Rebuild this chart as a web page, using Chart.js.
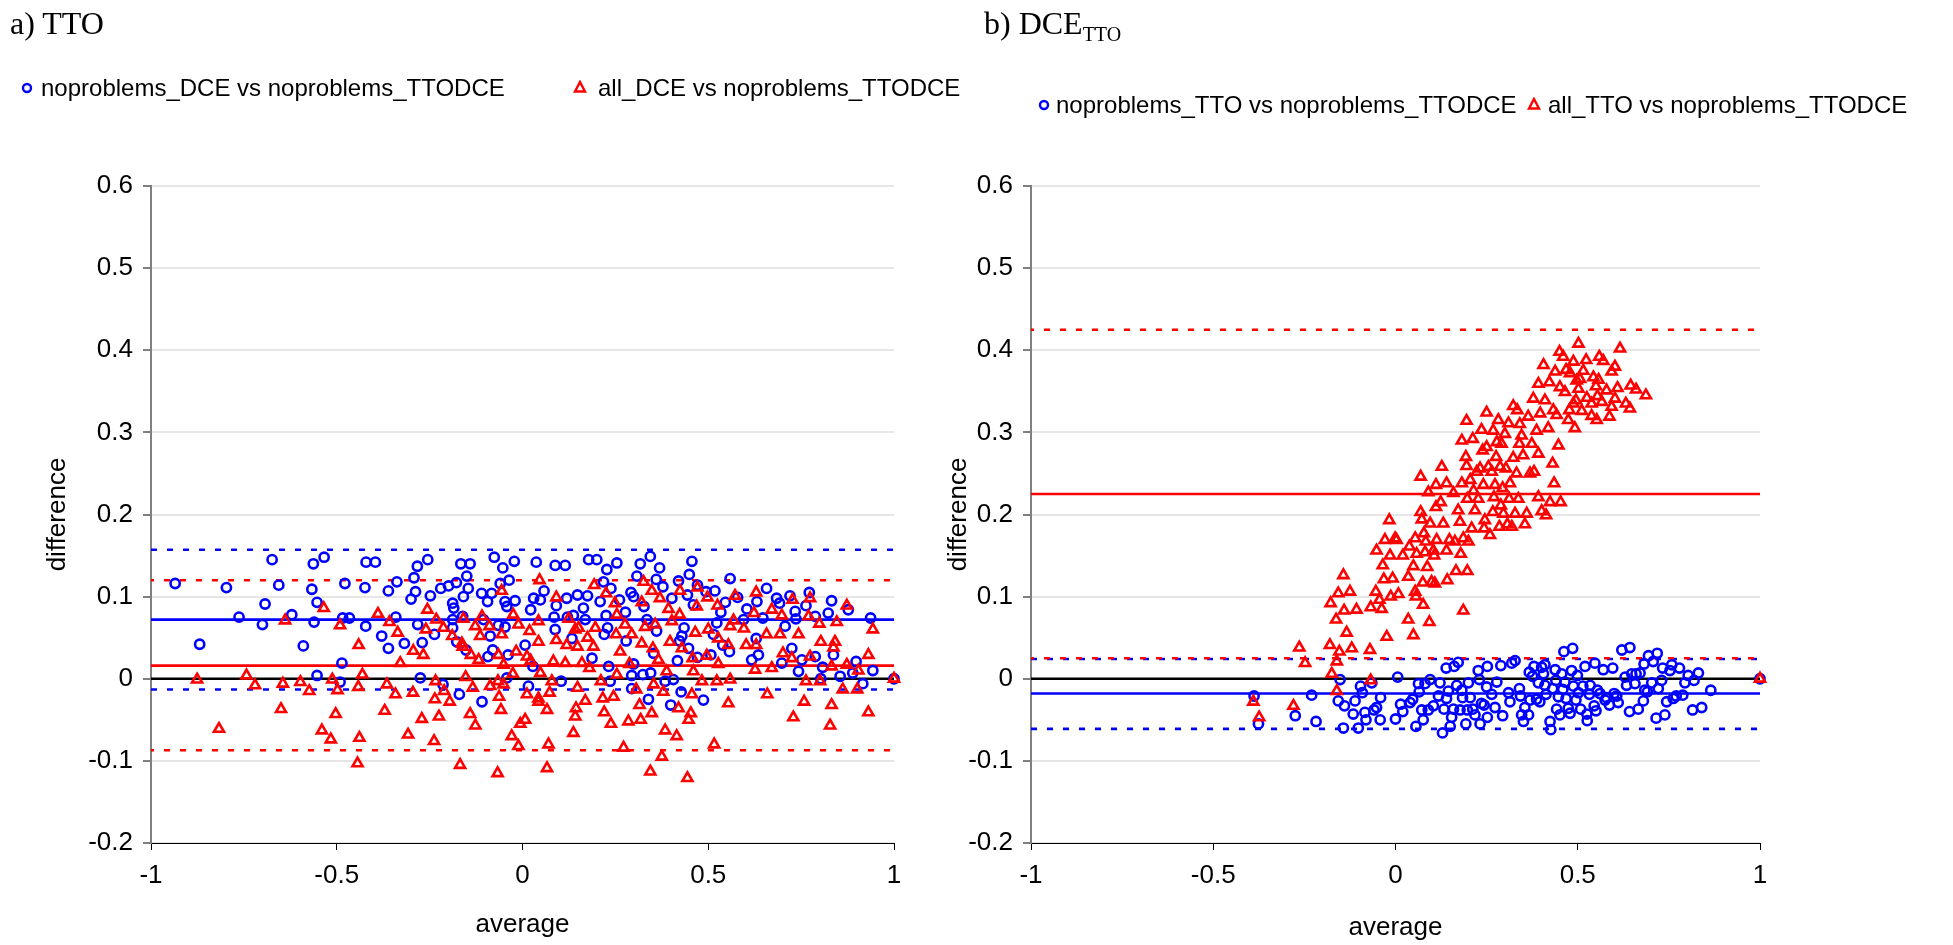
<!DOCTYPE html>
<html>
<head>
<meta charset="utf-8">
<script src="https://cdn.jsdelivr.net/npm/chart.js@4.4.1/dist/chart.umd.min.js"></script>
<style>
  body { margin: 0; background: #fff; width: 1953px; height: 945px; overflow: hidden; position: relative;
         font-family: 'Liberation Sans', Arial, sans-serif; }
  canvas { position: absolute; top: 0; }
  .title { position: absolute; font-family: 'Liberation Serif', 'Times New Roman', serif; font-size: 32px;
           line-height: 32px; color: #000; white-space: nowrap; }
  .title sub { font-size: 20px; vertical-align: -7px; line-height: 0; }
  .leg { position: absolute; font-size: 24px; line-height: 30px; height: 30px; white-space: nowrap; color: #000; }
  .mk { position: absolute; }
</style>
</head>
<body>
<canvas id="ttoChart" width="930" height="945" style="left:0"></canvas>
<canvas id="dceChart" width="1023" height="945" style="left:930px"></canvas>

<div class="title" style="left:10px;top:7px">a) TTO</div>
<div class="title" style="left:984px;top:7px">b) DCE<sub>TTO</sub></div>

<svg class="mk" style="left:21px;top:82px" width="12" height="12"><circle cx="6" cy="6" r="4" fill="none" stroke="#0000ff" stroke-width="2.4"/></svg>
<span class="leg" style="left:41px;top:73px">noproblems_DCE vs noproblems_TTODCE</span>
<svg class="mk" style="left:573px;top:80px" width="14" height="14"><polygon points="7,2 12,11.5 2,11.5" fill="none" stroke="#ff0000" stroke-width="2.4"/></svg>
<span class="leg" style="left:598px;top:73px">all_DCE vs noproblems_TTODCE</span>

<svg class="mk" style="left:1038px;top:99px" width="12" height="12"><circle cx="6" cy="6" r="4" fill="none" stroke="#0000ff" stroke-width="2.4"/></svg>
<span class="leg" style="left:1056px;top:90px">noproblems_TTO vs noproblems_TTODCE</span>
<svg class="mk" style="left:1527px;top:97px" width="14" height="14"><polygon points="7,2 12,11.5 2,11.5" fill="none" stroke="#ff0000" stroke-width="2.4"/></svg>
<span class="leg" style="left:1548px;top:90px">all_TTO vs noproblems_TTODCE</span>

<script>
// axis ticks
const xTicks = [-1, -0.5, 0, 0.5, 1];
const yTicks = [-0.2, -0.1, 0, 0.1, 0.2, 0.3, 0.4, 0.5, 0.6];

// a) TTO: [average, difference]
const ttoNoproblemsDce = [
  [-0.935,0.116],[-0.869,0.042],[-0.797,0.111],[-0.763,0.075],[-0.700,0.066],[-0.693,0.091],[-0.674,0.145],[-0.656,0.114],
  [-0.621,0.078],[-0.590,0.040],[-0.567,0.109],[-0.563,0.140],[-0.561,0.069],[-0.553,0.093],[-0.553,0.004],[-0.534,0.148],
  [-0.491,-0.004],[-0.486,0.019],[-0.484,0.074],[-0.478,0.116],[-0.466,0.074],[-0.424,0.111],[-0.422,0.064],[-0.421,0.142],
  [-0.396,0.142],[-0.379,0.052],[-0.361,0.107],[-0.361,0.037],[-0.341,0.075],[-0.338,0.118],[-0.318,0.043],[-0.300,0.097],
  [-0.292,0.123],[-0.288,0.106],[-0.283,0.137],[-0.282,0.066],[-0.275,0.001],[-0.270,0.044],[-0.255,0.145],[-0.248,0.101],
  [-0.237,0.054],[-0.220,0.110],[-0.214,-0.007],[-0.199,0.113],[-0.188,0.092],[-0.185,0.086],[-0.188,0.072],[-0.188,0.062],
  [-0.178,0.117],[-0.177,0.045],[-0.170,-0.019],[-0.166,0.140],[-0.161,0.076],[-0.159,0.100],[-0.152,0.035],[-0.150,0.125],
  [-0.146,0.110],[-0.141,0.140],[-0.110,0.104],[-0.109,-0.028],[-0.105,0.072],[-0.094,0.094],[-0.093,0.027],[-0.087,0.052],
  [-0.083,0.104],[-0.080,0.035],[-0.076,0.148],[-0.065,0.065],[-0.060,0.116],[-0.053,0.135],[-0.047,0.094],[-0.047,0.063],
  [-0.042,0.001],[-0.042,0.088],[-0.039,0.029],[-0.036,0.120],[-0.022,0.143],[-0.020,0.095],
  [0.007,0.041],[0.016,-0.009],[0.028,0.015],[0.104,-0.003],
  [0.037,0.142],[0.022,0.084],[0.030,0.098],[0.048,0.096],[0.058,0.107],[0.088,0.138],[0.115,0.138],[0.085,0.075],
  [0.091,0.089],[0.088,0.060],[0.119,0.098],[0.121,0.075],[0.133,0.049],[0.137,0.077],[0.148,0.102],[0.164,0.086],
  [0.169,0.072],[0.175,0.101],[0.178,0.145],[0.200,0.145],[0.187,0.025],[0.209,0.094],[0.218,0.118],[0.227,0.133],
  [0.225,0.077],[0.229,0.062],[0.220,0.054],[0.238,0.110],[0.254,0.141],[0.261,0.096],[0.277,0.081],[0.279,0.046],
  [0.232,0.015],[0.236,-0.003],[0.292,0.105],[0.299,0.100],[0.299,0.018],[0.294,0.004],[0.294,-0.012],[0.308,0.125],
  [0.317,0.140],[0.324,0.005],[0.327,0.088],[0.335,0.072],[0.344,0.149],[0.345,0.007],[0.339,-0.025],[0.353,0.031],
  [0.360,0.121],[0.361,0.058],[0.369,0.135],[0.378,0.112],[0.384,-0.003],[0.399,-0.032],[0.402,0.098],[0.406,-0.001],
  [0.417,0.022],[0.420,0.119],[0.423,0.046],[0.427,-0.016],[0.429,0.052],[0.435,0.062],[0.444,0.102],[0.447,0.037],
  [0.449,0.127],[0.456,0.143],[0.471,0.114],[0.471,0.026],[0.460,0.090],[0.487,-0.026],[0.494,0.106],[0.518,0.107],
  [0.507,0.029],[0.514,0.054],[0.523,0.068],[0.534,0.081],[0.539,0.041],[0.546,0.093],[0.557,0.033],[0.559,0.122],
  [0.579,0.099],[0.595,0.072],[0.604,0.085],[0.617,0.023],[0.629,0.049],[0.631,0.094],[0.635,0.029],[0.647,0.074],
  [0.657,0.110],[0.684,0.098],[0.692,0.092],[0.698,0.019],[0.707,0.064],[0.720,0.101],[0.725,0.037],[0.734,0.082],
  [0.736,0.073],[0.743,0.009],[0.752,0.023],[0.763,0.089],[0.772,0.105],[0.788,0.076],[0.788,0.027],[0.803,0.000],
  [0.808,0.014],[0.823,0.080],[0.832,0.095],[0.837,0.029],[0.855,0.003],[0.877,0.084],[0.889,0.007],[0.898,0.021],
  [0.916,-0.006],[0.937,0.074],[0.943,0.010],[1,0]
];
const ttoAllDce = [
  [-0.876,-0.001],[-0.817,-0.061],[-0.743,0.004],[-0.720,-0.008],[-0.650,-0.037],[-0.645,-0.006],[-0.639,0.071],[-0.598,-0.004],
  [-0.574,-0.015],[-0.540,-0.063],[-0.535,0.086],[-0.516,-0.074],[-0.512,-0.001],[-0.503,-0.043],[-0.498,-0.014],[-0.491,0.065],
  [-0.444,-0.103],[-0.442,-0.010],[-0.441,0.041],[-0.439,-0.072],[-0.431,0.005],[-0.389,0.079],[-0.371,-0.039],[-0.365,-0.007],
  [-0.358,0.069],[-0.342,-0.019],[-0.336,0.056],[-0.329,0.019],[-0.308,-0.068],[-0.295,-0.017],[-0.294,0.034],[-0.271,-0.049],
  [-0.267,0.029],[-0.260,0.060],[-0.256,0.084],[-0.238,-0.076],[-0.236,-0.025],[-0.234,-0.003],[-0.232,0.072],[-0.225,-0.046],
  [-0.213,0.062],[-0.211,-0.015],[-0.196,-0.028],[-0.189,0.052],[-0.168,-0.105],[-0.163,0.043],[-0.161,0.039],[-0.159,0.073],
  [-0.153,0.002],[-0.141,-0.043],[-0.139,0.029],[-0.134,-0.011],[-0.127,-0.057],[-0.127,0.064],[-0.118,0.023],[-0.114,0.052],
  [-0.109,0.076],[-0.089,0.064],[-0.087,-0.009],[-0.067,-0.115],[-0.066,-0.003],[-0.065,0.029],[-0.063,-0.022],[-0.058,-0.038],
  [-0.056,0.054],[-0.056,0.107],[-0.051,-0.007],[-0.051,0.017],[-0.029,-0.070],[-0.026,0.006],[-0.025,0.078],[-0.017,0.033],
  [-0.011,-0.082],[-0.006,-0.055],[-0.011,0.066],
  [0.046,0.120],[0.043,0.070],[0.019,0.058],[0.012,0.027],[0.022,0.022],[0.048,0.007],[0.043,0.045],[0.012,-0.019],
  [0.007,-0.050],[0.043,-0.024],[0.043,-0.028],[0.066,-0.038],[0.073,-0.017],[0.070,-0.080],[0.066,-0.109],[0.079,-0.003],
  [0.083,0.021],[0.091,0.099],[0.091,0.047],[0.115,0.019],[0.119,0.041],[0.124,0.073],[0.142,0.060],[0.148,0.039],
  [0.151,0.062],[0.148,-0.011],[0.144,-0.036],[0.142,-0.046],[0.137,-0.066],[0.160,0.019],[0.169,-0.027],[0.175,0.050],
  [0.180,0.013],[0.191,0.039],[0.193,0.114],[0.196,0.062],[0.211,-0.003],[0.216,-0.024],[0.220,-0.041],[0.225,0.104],
  [0.238,-0.055],[0.245,-0.022],[0.249,0.092],[0.252,0.054],[0.254,0.078],[0.254,0.005],[0.263,0.033],[0.272,-0.084],
  [0.276,0.066],[0.285,-0.052],[0.288,0.018],[0.294,0.054],[0.306,-0.013],[0.315,-0.032],[0.318,-0.050],[0.321,0.093],
  [0.321,0.043],[0.326,0.118],[0.330,0.063],[0.344,-0.113],[0.348,-0.042],[0.348,0.107],[0.351,0.037],[0.353,-0.007],
  [0.357,0.066],[0.366,0.023],[0.370,0.098],[0.375,-0.095],[0.379,-0.016],[0.384,-0.063],[0.388,0.009],[0.393,0.085],
  [0.397,0.045],[0.402,0.070],[0.415,-0.070],[0.420,-0.036],[0.423,0.078],[0.424,0.107],[0.429,0.037],[0.444,-0.121],
  [0.447,-0.050],[0.453,-0.042],[0.456,-0.019],[0.458,0.025],[0.460,0.009],[0.465,0.056],[0.469,0.088],[0.471,0.111],
  [0.483,-0.003],[0.496,0.028],[0.498,0.099],[0.500,0.060],[0.516,-0.080],[0.523,-0.003],[0.525,0.089],[0.527,0.049],
  [0.527,0.018],[0.554,0.041],[0.554,-0.030],[0.559,-0.001],[0.559,0.064],[0.568,0.071],[0.572,0.101],[0.596,0.061],
  [0.602,0.041],[0.623,0.080],[0.626,0.011],[0.629,0.105],[0.629,0.041],[0.657,0.054],[0.659,-0.019],[0.671,0.084],
  [0.671,0.013],[0.693,0.054],[0.698,0.077],[0.701,0.031],[0.725,0.025],[0.727,0.096],[0.729,-0.047],[0.743,0.054],
  [0.758,-0.028],[0.763,-0.003],[0.770,0.076],[0.774,0.098],[0.774,0.027],[0.799,0.067],[0.801,-0.003],[0.803,0.045],
  [0.828,-0.057],[0.832,-0.032],[0.832,0.015],[0.837,0.038],[0.841,0.045],[0.846,0.069],[0.862,-0.013],[0.873,0.089],
  [0.873,0.017],[0.901,-0.013],[0.904,0.010],[0.931,-0.041],[0.931,0.029],[0.943,0.060],[1,0]
];
// mean and limits of agreement: [blue, red]
const ttoMeans = [0.072, 0.016];
const ttoLimits = [[-0.013, 0.157], [-0.087, 0.120]];

// b) DCE_TTO
const dceNoproblemsTto = [
  [-0.388,-0.021],[-0.376,-0.055],[-0.275,-0.045],[-0.230,-0.020],[-0.218,-0.052],[-0.152,-0.001],[-0.157,-0.027],[-0.143,-0.060],
  [-0.140,-0.033],[-0.116,-0.043],[-0.111,-0.027],[-0.102,-0.060],[-0.096,-0.009],[-0.091,-0.017],[-0.084,-0.041],[-0.081,-0.050],
  [-0.065,-0.005],[-0.059,-0.038],[-0.052,-0.035],[-0.041,-0.023],[-0.042,-0.050],[0.000,-0.049],[0.006,0.002],[0.014,-0.031],
  [0.020,-0.040],[0.047,-0.025],[0.040,-0.029],[0.056,-0.058],[0.063,-0.006],[0.065,-0.016],[0.072,-0.038],[0.076,-0.050],
  [0.081,-0.006],[0.090,-0.038],[0.095,-0.001],[0.104,-0.033],[0.118,-0.021],[0.122,-0.005],[0.129,-0.066],[0.133,-0.037],
  [0.139,0.013],[0.140,-0.024],[0.145,-0.015],[0.150,-0.058],[0.154,-0.047],[0.159,-0.037],[0.161,0.015],[0.172,0.020],
  [0.168,-0.008],[0.177,-0.038],[0.182,-0.014],[0.184,-0.023],[0.193,-0.055],[0.197,-0.038],[0.200,-0.005],[0.205,-0.023],
  [0.212,-0.037],[0.218,-0.044],[0.227,0.010],[0.230,-0.001],[0.232,-0.055],[0.236,-0.030],[0.243,-0.032],[0.250,-0.010],
  [0.252,0.015],[0.252,-0.047],[0.264,-0.019],[0.273,-0.035],[0.278,-0.004],[0.289,0.016],[0.294,-0.045],
  [0.319,0.019],[0.328,0.022],[0.310,-0.017],[0.314,-0.028],[0.340,-0.012],[0.343,-0.021],[0.346,-0.044],[0.351,-0.052],
  [0.355,-0.035],[0.365,-0.044],[0.367,0.008],[0.369,-0.026],[0.376,0.003],[0.380,0.015],[0.387,-0.025],[0.392,-0.005],
  [0.396,-0.028],[0.401,0.014],[0.406,0.006],[0.410,0.017],[0.410,-0.008],[0.413,-0.019],[0.424,-0.052],[0.426,-0.062],
  [0.431,-0.012],[0.438,0.011],[0.440,-0.002],[0.442,-0.037],[0.447,-0.022],[0.451,-0.044],[0.456,0.006],[0.459,-0.013],
  [0.462,0.033],[0.465,-0.004],[0.468,-0.024],[0.474,-0.036],[0.479,-0.042],[0.483,0.010],[0.486,0.037],[0.488,-0.009],
  [0.495,-0.026],[0.499,0.004],[0.502,-0.017],[0.508,-0.037],[0.514,-0.009],[0.520,0.015],[0.525,-0.043],[0.526,-0.051],
  [0.532,-0.019],[0.534,-0.008],[0.545,-0.033],[0.547,0.019],[0.550,-0.039],[0.554,-0.014],[0.561,-0.018],[0.570,0.011],
  [0.575,-0.026],[0.579,-0.023],[0.587,-0.032],[0.596,0.013],[0.600,-0.018],[0.607,-0.021],[0.611,-0.029],[0.621,0.035],
  [0.630,0.002],[0.634,-0.008],[0.642,-0.040],[0.643,0.038],[0.648,0.006],[0.657,-0.006],[0.660,0.006],[0.666,-0.037],
  [0.671,0.007],[0.680,-0.027],[0.682,0.018],[0.684,-0.014],[0.691,-0.016],[0.694,0.028],[0.703,-0.005],[0.707,0.021],
  [0.715,-0.048],[0.718,0.031],[0.721,-0.012],[0.730,-0.002],[0.733,0.013],[0.739,-0.044],[0.744,-0.028],[0.753,0.010],
  [0.758,0.017],[0.762,-0.024],[0.770,-0.021],[0.779,0.013],[0.788,-0.020],[0.794,-0.005],[0.803,0.004],[0.815,-0.038],
  [0.819,-0.002],[0.831,0.007],[0.840,-0.035],[0.865,-0.014],[1,0]
];
const dceAllTto = [
  [-0.390,-0.028],[-0.374,-0.047],[-0.280,-0.033],[-0.161,-0.015],[-0.068,-0.002],
  [-0.264,0.038],[-0.248,0.019],[-0.178,0.092],[-0.180,0.041],[-0.154,0.033],[-0.163,0.072],[-0.161,0.021],[-0.175,0.006],
  [-0.157,0.104],[-0.143,0.126],[-0.141,0.083],[-0.134,0.056],[-0.125,0.106],[-0.120,0.037],[-0.107,0.084],[-0.070,0.035],
  [-0.068,0.087],[-0.054,0.106],[-0.052,0.156],[-0.044,0.096],[-0.038,0.085],[-0.035,0.138],[-0.032,0.121],[-0.029,0.169],
  [-0.024,0.051],[-0.017,0.193],[-0.015,0.150],[-0.013,0.100],[-0.008,0.122],[-0.001,0.171],[0.003,0.169],[0.008,0.103],
  [0.020,0.150],[0.035,0.072],[0.035,0.124],[0.038,0.161],[0.049,0.137],[0.049,0.053],[0.054,0.106],[0.054,0.171],
  [0.056,0.100],[0.058,0.152],[0.069,0.246],[0.069,0.203],[0.072,0.194],[0.075,0.117],[0.076,0.090],[0.078,0.177],
  [0.081,0.154],[0.083,0.167],[0.087,0.136],[0.090,0.227],[0.093,0.069],[0.095,0.189],[0.099,0.118],[0.104,0.156],
  [0.106,0.150],[0.108,0.116],[0.111,0.209],[0.113,0.169],[0.111,0.236],[0.124,0.215],[0.127,0.258],[0.131,0.189],
  [0.140,0.156],[0.140,0.238],[0.142,0.120],[0.148,0.169],[0.159,0.226],[0.163,0.167],[0.166,0.131],[0.172,0.205],
  [0.177,0.191],[0.179,0.152],[0.182,0.238],[0.182,0.290],[0.186,0.171],[0.186,0.083],[0.193,0.270],[0.195,0.259],
  [0.195,0.314],[0.197,0.219],[0.197,0.131],[0.200,0.167],[0.205,0.242],[0.209,0.183],[0.212,0.292],[0.214,0.229],
  [0.218,0.205],[0.223,0.252],[0.227,0.219],[0.232,0.256],[0.236,0.303],[0.239,0.278],[0.241,0.236],[0.243,0.183],
  [0.245,0.193],[0.250,0.324],[0.250,0.282],[0.255,0.258],[0.259,0.175],[0.264,0.252],[0.267,0.203],[0.268,0.302],
  [0.270,0.221],[0.273,0.236],[0.276,0.270],[0.278,0.288],[0.282,0.315],[0.285,0.185],[0.287,0.258],[0.289,0.211],
  [0.291,0.286],[0.294,0.232],[0.296,0.201],[0.300,0.298],[0.303,0.256],[0.307,0.188],[0.310,0.311],[0.312,0.219],
  [0.314,0.238],[0.319,0.185],[0.323,0.332],[0.323,0.269],[0.328,0.201],[0.332,0.250],[0.334,0.327],[0.337,0.219],
  [0.340,0.286],[0.341,0.310],[0.346,0.296],[0.350,0.272],[0.355,0.188],[0.360,0.201],[0.364,0.319],[0.369,0.250],
  [0.374,0.286],[0.378,0.341],[0.380,0.252],[0.387,0.302],[0.392,0.359],[0.392,0.274],[0.392,0.221],[0.397,0.323],
  [0.401,0.204],[0.406,0.382],[0.410,0.339],[0.413,0.199],[0.419,0.305],[0.422,0.361],[0.424,0.215],[0.431,0.262],
  [0.433,0.327],[0.435,0.238],[0.438,0.374],[0.442,0.321],[0.447,0.284],[0.450,0.398],[0.451,0.355],[0.453,0.215],
  [0.460,0.392],[0.465,0.349],[0.468,0.376],[0.474,0.315],[0.477,0.327],[0.488,0.386],[0.492,0.305],[0.495,0.339],
  [0.497,0.363],[0.502,0.408],[0.479,0.372],[0.488,0.335],
  [0.616,0.402],[0.523,0.388],[0.559,0.392],[0.570,0.387],[0.602,0.380],[0.593,0.374],[0.515,0.375],[0.506,0.365],
  [0.543,0.367],[0.557,0.364],[0.550,0.356],[0.502,0.353],[0.579,0.351],[0.609,0.354],[0.645,0.357],[0.660,0.352],
  [0.687,0.345],[0.525,0.342],[0.554,0.344],[0.602,0.341],[0.538,0.335],[0.566,0.337],[0.632,0.335],[0.643,0.329],
  [0.593,0.331],[0.511,0.326],[0.538,0.320],[0.552,0.315],[0.587,0.319],[1,0]
];
const dceMeans = [-0.018, 0.225];
const dceLimits = [[-0.061, 0.024], [0.025, 0.425]];

const BLUE = '#0000ff', RED = '#ff0000';
const tickFont = { family: "'Liberation Sans', Arial, sans-serif", size: 26 };
const titleFont = { family: "'Liberation Sans', Arial, sans-serif", size: 26 };
Chart.defaults.color = '#000';

function fmt(v) { return String(Math.round(v * 10) / 10); }

function hLine(y, color, dash, offset) {
  return {
    data: [{ x: -1, y: y }, { x: 1, y: y }],
    showLine: true, pointRadius: 0, borderColor: color, borderWidth: 2.6,
    borderDash: dash || [], borderDashOffset: offset || 0, order: 3
  };
}

function makePanel(id, blue, red, means, limits, box) {
  const datasets = [
    { label: 'red', data: red.map(p => ({ x: p[0], y: p[1] })), pointStyle: 'triangle', pointRadius: 5.8,
      pointBorderWidth: 2.6, pointBorderColor: RED, pointBackgroundColor: 'rgba(0,0,0,0)', clip: false, order: 0 },
    { label: 'blue', data: blue.map(p => ({ x: p[0], y: p[1] })), pointStyle: 'circle', pointRadius: 4.6,
      pointBorderWidth: 2.6, pointBorderColor: BLUE, pointBackgroundColor: 'rgba(0,0,0,0)', clip: false, order: 1 },
    hLine(0, '#000'),
    hLine(means[0], BLUE),
    hLine(means[1], RED)
  ];
  limits[1].forEach(v => datasets.push(hLine(v, RED, [6, 10], 3)));
  limits[0].forEach(v => datasets.push(hLine(v, BLUE, [6, 10], 0)));

  new Chart(document.getElementById(id), {
    type: 'scatter',
    data: { datasets: datasets },
    options: {
      responsive: false,
      animation: false,
      events: [],
      layout: { padding: { left: 0, right: box.padRight, top: 186, bottom: 0 } },
      plugins: { legend: { display: false }, tooltip: { enabled: false } },
      scales: {
        x: {
          type: 'linear', min: -1, max: 1,
          afterBuildTicks: s => { s.ticks = xTicks.map(v => ({ value: v })); },
          afterFit: s => { s.height = 102; },
          ticks: { font: tickFont, padding: 10, callback: fmt, maxRotation: 0 },
          grid: { drawOnChartArea: false, drawTicks: true, tickLength: 7, tickColor: '#000', tickWidth: 1 },
          border: { color: '#000', width: 1 },
          title: { display: true, text: 'average', font: titleFont, padding: { top: 0, bottom: box.xTitlePad } }
        },
        y: {
          type: 'linear', min: -0.2, max: 0.6,
          afterBuildTicks: s => { s.ticks = yTicks.map(v => ({ value: v })); },
          afterFit: s => { s.width = box.yWidth; },
          ticks: { font: tickFont, padding: 10, callback: fmt },
          grid: { color: '#e6e6e6', lineWidth: 2, drawTicks: true, tickLength: 8, tickColor: '#000', tickWidth: 1 },
          border: { color: '#808080', width: 2 },
          title: { display: true, text: 'difference', font: titleFont, padding: { top: box.yTitlePad, bottom: 0 } }
        }
      }
    }
  });
}

makePanel('ttoChart', ttoNoproblemsDce, ttoAllDce, ttoMeans, ttoLimits,
  { padRight: 36, yWidth: 151, yTitlePad: 42, xTitlePad: 5 });
makePanel('dceChart', dceNoproblemsTto, dceAllTto, dceMeans, dceLimits,
  { padRight: 193, yWidth: 101, yTitlePad: 13, xTitlePad: 2 });
</script>
</body>
</html>
